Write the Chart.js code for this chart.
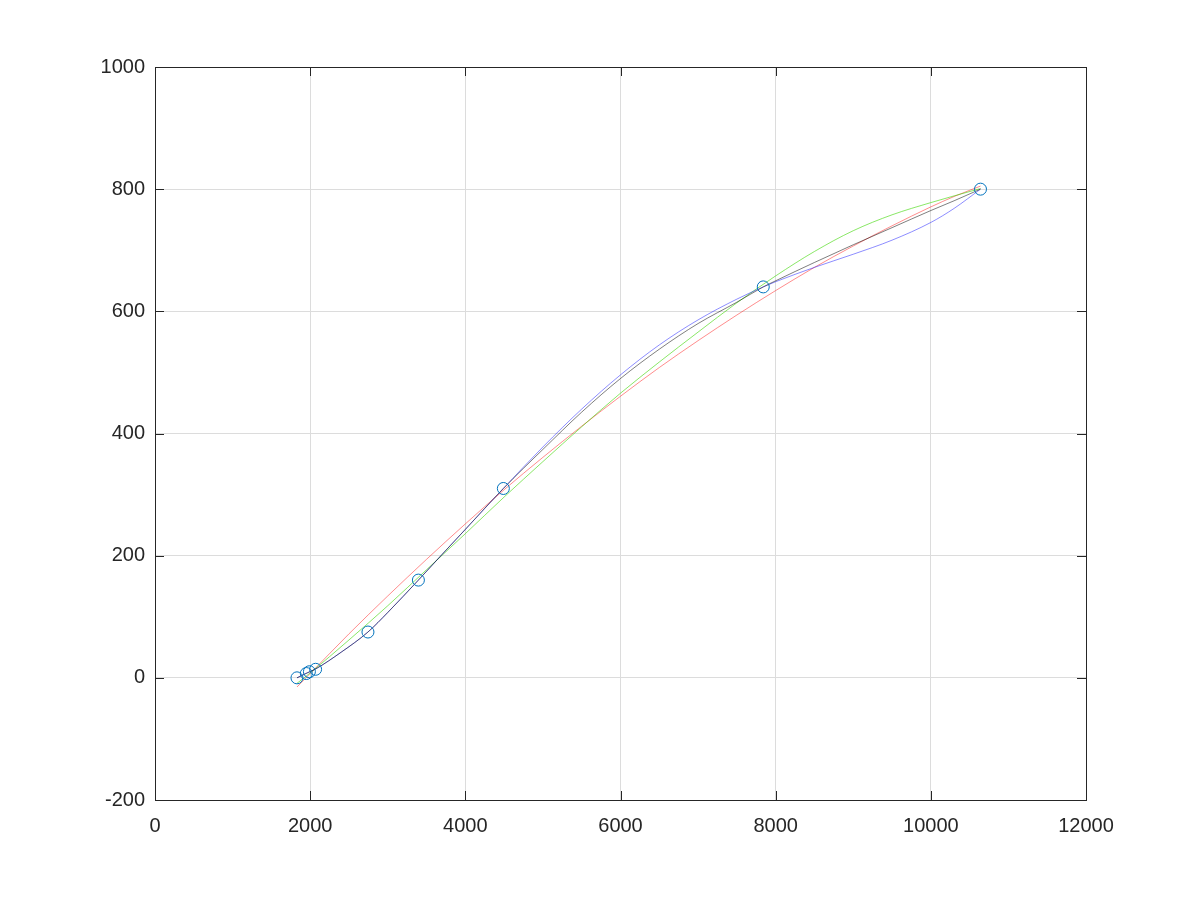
<!DOCTYPE html>
<html>
<head>
<meta charset="utf-8">
<title>Fit curves</title>
<script src="https://cdn.jsdelivr.net/npm/chart.js@4.4.1/dist/chart.umd.min.js"></script>
<style>
  html, body { margin: 0; padding: 0; background: #fff; }
  #chart { display: block; }
</style>
</head>
<body>
<canvas id="chart" width="1200" height="900"></canvas>
<script>
// measured points (circles)
const pointX = [1830, 1950, 1990, 2070, 2745, 3395, 4490, 7840, 10640]
const pointY = [0, 7, 10, 14, 75, 160, 310, 640, 800]

// red and green fits
const fitX = [1830, 2000, 2500, 3000, 3500, 4000, 4500, 5000, 5500, 6000, 6500, 7000, 7500, 8000, 8500, 9000, 9500, 10000, 10300, 10640]
const redY = [-15, 7, 72, 134, 194, 252, 308, 361, 412, 461, 508, 552, 594, 634, 672, 707, 740, 771, 788, 805]
const greenY = [-9, 8, 62, 118, 177, 236, 296, 354, 411, 466, 517, 566, 614, 658, 698, 732, 758, 778, 789, 801]

// blue and grey curves through the points
const curveX = [1830, 1960, 2070, 2400, 2745, 3000, 3395, 3700, 4000, 4490, 5000, 5500, 6000, 6500, 7000, 7500, 7840, 8000, 8500, 9000, 9500, 10000, 10300, 10640]
const blueY = [0, 8, 14.5, 42, 75, 107, 160, 202, 243, 310, 378, 440, 496, 545, 586, 620, 640, 648.5, 672, 693.5, 716.5, 745.5, 768.5, 800]
const grayY = [0, 8, 14.5, 42, 75, 107, 160, 202, 243, 310, 374, 435, 490, 538, 580, 615, 640, 650, 680, 709, 737, 765, 781, 800]

const xTicks = [0, 2000, 4000, 6000, 8000, 10000, 12000]
const yTicks = [-200, 0, 200, 400, 600, 800, 1000]

const axisColor = "#262626"
const font = { family: "'Liberation Sans', Arial, sans-serif", size: 20 }

function pairs(xs, ys) {
  return xs.map((x, i) => ({ x, y: ys[i] }))
}

function curve(label, xs, ys, color) {
  return {
    label,
    data: pairs(xs, ys),
    showLine: true,
    borderColor: color,
    borderWidth: 1,
    pointRadius: 0,
    cubicInterpolationMode: "monotone",
    fill: false
  }
}

// octave-like box with inward ticks on all four sides
const boxPlugin = {
  id: "box",
  afterDraw(chart) {
    const { ctx, chartArea: a, scales } = chart
    const len = 9
    ctx.save()
    ctx.strokeStyle = axisColor
    ctx.lineWidth = 1
    ctx.beginPath()
    xTicks.forEach((v) => {
      const px = Math.round(scales.x.getPixelForValue(v)) + 0.5
      ctx.moveTo(px, a.bottom); ctx.lineTo(px, a.bottom - len)
      ctx.moveTo(px, a.top); ctx.lineTo(px, a.top + len)
    })
    yTicks.forEach((v) => {
      const py = Math.round(scales.y.getPixelForValue(v)) + 0.5
      ctx.moveTo(a.left, py); ctx.lineTo(a.left + len, py)
      ctx.moveTo(a.right, py); ctx.lineTo(a.right - len, py)
    })
    ctx.stroke()
    ctx.strokeRect(Math.round(a.left) + 0.5, Math.round(a.top) + 0.5,
      Math.round(a.right - a.left), Math.round(a.bottom - a.top))
    ctx.restore()
  }
}

new Chart(document.getElementById("chart"), {
  type: "scatter",
  data: {
    datasets: [
      {
        label: "data",
        data: pairs(pointX, pointY),
        pointStyle: "circle",
        pointRadius: 6,
        pointBorderWidth: 1,
        pointBorderColor: "rgb(0,114,189)",
        pointBackgroundColor: "rgba(0,0,0,0)",
        showLine: false
      },
      curve("grey", curveX, grayY, "rgba(0,0,0,0.5)"),
      curve("blue", curveX, blueY, "rgba(0,0,255,0.45)"),
      curve("green", fitX, greenY, "rgba(60,215,0,0.6)"),
      curve("red", fitX, redY, "rgba(255,0,0,0.45)")
    ]
  },
  options: {
    responsive: false,
    devicePixelRatio: 1,
    animation: false,
    layout: { padding: { top: 67, right: 114, left: 0, bottom: 0 } },
    plugins: {
      legend: { display: false },
      tooltip: { enabled: false }
    },
    scales: {
      x: {
        type: "linear",
        min: 0,
        max: 12000,
        afterBuildTicks: (s) => { s.ticks = xTicks.map((value) => ({ value })) },
        afterFit: (s) => { s.height = 100 },
        border: { display: false },
        grid: { color: "#dcdcdc", lineWidth: 1, drawTicks: false },
        ticks: { color: axisColor, font, padding: 14, maxRotation: 0, callback: (v) => String(v) }
      },
      y: {
        type: "linear",
        min: -200,
        max: 1000,
        afterBuildTicks: (s) => { s.ticks = yTicks.map((value) => ({ value })) },
        afterFit: (s) => { s.width = 155 },
        border: { display: false },
        grid: { color: "#dcdcdc", lineWidth: 1, drawTicks: false },
        ticks: { color: axisColor, font, padding: 10, callback: (v) => String(v) }
      }
    }
  },
  plugins: [boxPlugin]
})
</script>
</body>
</html>
